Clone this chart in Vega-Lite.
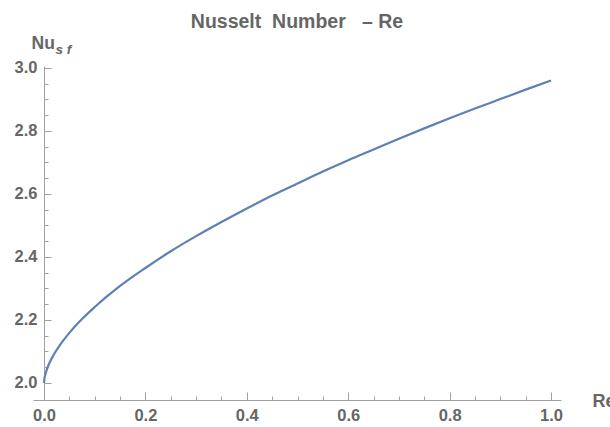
{
  "$schema": "https://vega.github.io/schema/vega-lite/v6.json",
  "width": 528,
  "height": 334,
  "autosize": {"type": "none"},
  "padding": {"left": 33, "top": 66, "right": 49, "bottom": 27},
  "background": "white",
  "title": {
    "text": "Nusselt\u00a0 Number\u00a0\u00a0 –\u00a0Re",
    "font": "Liberation Sans, Arial",
    "fontSize": 19.5,
    "fontWeight": "bold",
    "color": "#666666",
    "anchor": "middle",
    "frame": "group",
    "baseline": "alphabetic",
    "offset": -13
  },
  "config": {
    "view": {"stroke": null},
    "axis": {
      "labelFont": "Liberation Sans, Arial",
      "labelFontSize": 16.5,
      "labelFontWeight": "bold",
      "labelColor": "#666666",
      "titleFont": "Liberation Sans, Arial",
      "titleColor": "#666666",
      "titleFontWeight": "bold",
      "domainColor": "#a0a0a0",
      "tickColor": "#a0a0a0",
      "domainWidth": 1,
      "tickWidth": 1,
      "grid": false
    }
  },
  "data": {
    "values": [
      {"Re": 0.0, "Nu": 2.0},
      {"Re": 0.001, "Nu": 2.015},
      {"Re": 0.003, "Nu": 2.029},
      {"Re": 0.006, "Nu": 2.045},
      {"Re": 0.01, "Nu": 2.061},
      {"Re": 0.02, "Nu": 2.092},
      {"Re": 0.03, "Nu": 2.117},
      {"Re": 0.05, "Nu": 2.159},
      {"Re": 0.075, "Nu": 2.203},
      {"Re": 0.1, "Nu": 2.241},
      {"Re": 0.15, "Nu": 2.308},
      {"Re": 0.2, "Nu": 2.365},
      {"Re": 0.25, "Nu": 2.418},
      {"Re": 0.3, "Nu": 2.466},
      {"Re": 0.35, "Nu": 2.511},
      {"Re": 0.4, "Nu": 2.554},
      {"Re": 0.45, "Nu": 2.595},
      {"Re": 0.5, "Nu": 2.633},
      {"Re": 0.55, "Nu": 2.671},
      {"Re": 0.6, "Nu": 2.707},
      {"Re": 0.65, "Nu": 2.741},
      {"Re": 0.7, "Nu": 2.775},
      {"Re": 0.75, "Nu": 2.808},
      {"Re": 0.8, "Nu": 2.84},
      {"Re": 0.85, "Nu": 2.871},
      {"Re": 0.9, "Nu": 2.901},
      {"Re": 0.95, "Nu": 2.931},
      {"Re": 1.0, "Nu": 2.96}
    ]
  },
  "resolve": {"axis": {"x": "independent", "y": "independent"}},
  "layer": [
    {
      "mark": {"type": "line", "color": "#5E81B5", "strokeWidth": 2.2, "interpolate": "monotone"},
      "encoding": {
        "x": {
          "field": "Re", "type": "quantitative",
          "scale": {"domain": [-0.0217, 1.0197], "nice": false, "zero": false},
          "axis": {
            "orient": "bottom",
            "values": [0, 0.2, 0.4, 0.6, 0.8, 1.0],
            "format": ".1f",
            "tickSize": -8,
            "labelPadding": 15,
            "labelBaseline": "top",
            "title": "Re",
            "titleFontSize": 18,
            "titleAngle": 0,
            "titleAlign": "left",
            "titleBaseline": "alphabetic",
            "titleX": 559,
            "titleY": 6
          }
        },
        "y": {
          "field": "Nu", "type": "quantitative",
          "scale": {"domain": [1.946, 3.006], "nice": false, "zero": false},
          "axis": {
            "orient": "left",
            "offset": -11,
            "values": [2.0, 2.2, 2.4, 2.6, 2.8, 3.0],
            "format": ".1f",
            "tickSize": -7,
            "labelPadding": 14,
            "title": "Nu",
            "titleFontSize": 17.5,
            "titleAngle": 0,
            "titleAlign": "left",
            "titleBaseline": "alphabetic",
            "titleX": -13,
            "titleY": -18
          }
        }
      }
    },
    {
      "mark": {"type": "line", "opacity": 0},
      "encoding": {
        "x": {
          "field": "Re", "type": "quantitative",
          "axis": {
            "orient": "bottom",
            "values": [0.05, 0.1, 0.15, 0.25, 0.3, 0.35, 0.45, 0.5, 0.55, 0.65, 0.7, 0.75, 0.85, 0.9, 0.95],
            "domain": false,
            "labels": false,
            "tickSize": -4,
            "title": null
          }
        },
        "y": {
          "field": "Nu", "type": "quantitative",
          "axis": {
            "orient": "left",
            "offset": -11,
            "values": [2.05, 2.1, 2.15, 2.25, 2.3, 2.35, 2.45, 2.5, 2.55, 2.65, 2.7, 2.75, 2.85, 2.9, 2.95],
            "domain": false,
            "labels": false,
            "tickSize": -4,
            "title": "s f",
            "titleFont": "Liberation Sans, Arial",
            "titleFontStyle": "italic",
            "titleFontSize": 13.5,
            "titleAngle": 0,
            "titleAlign": "left",
            "titleBaseline": "alphabetic",
            "titleX": 11,
            "titleY": -13
          }
        }
      }
    }
  ]
}
